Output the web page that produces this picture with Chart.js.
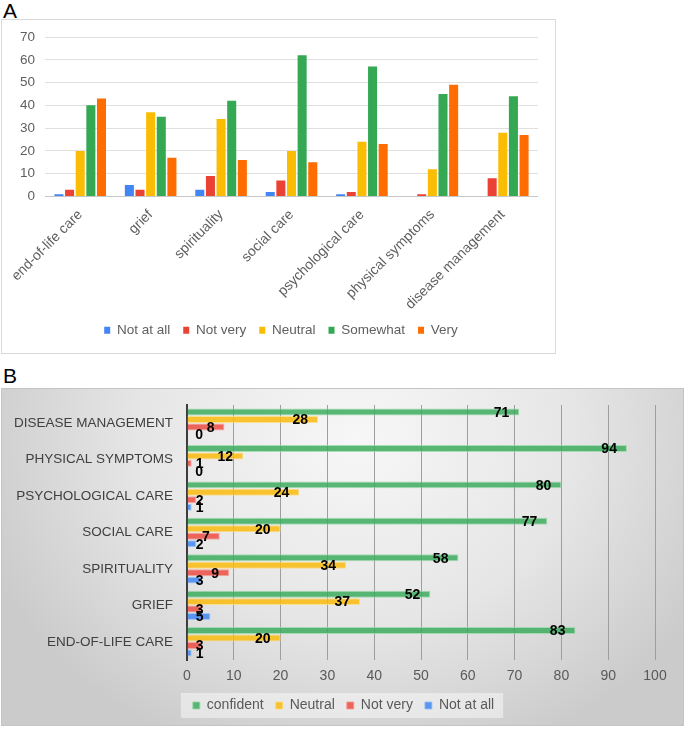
<!DOCTYPE html>
<html lang="en">
<head>
<meta charset="utf-8">
<title>Graphiques A et B</title>
<script src="https://cdn.jsdelivr.net/npm/chart.js@4.4.0/dist/chart.umd.min.js"></script>
<style>
    body { margin: 0; width: 685px; height: 729px; position: relative; overflow: hidden; background: #fff; font-family: "Liberation Sans", Arial, sans-serif; }
    .lettre { position: absolute; left: 3px; font-size: 21px; color: #000; line-height: 24px; }
    #boiteA { position: absolute; left: 1px; top: 19px; width: 555px; height: 335px; border: 1px solid #d9d9d9; box-sizing: border-box; background: #fff; }
    #boiteB { position: absolute; left: 1px; top: 388px; width: 683px; height: 338px; border: 1px solid #c4c4c4; box-sizing: border-box;
              background: radial-gradient(ellipse 58% 100% at 52% 15%, #f7f7f7 0%, #e6e6e6 55%, #cbcbcb 100%); }
    canvas { display: block; }
</style>
</head>
<body>
<div class="lettre" style="top:-1px">A</div>
<div id="boiteA"><canvas id="graphiqueA" width="553" height="333"></canvas></div>
<div class="lettre" style="top:364px">B</div>
<div id="boiteB"><canvas id="graphiqueB" width="681" height="336"></canvas></div>

<script>
// --- DONNÉES ---
const categories = ['end-of-life care', 'grief', 'spirituality', 'social care', 'psychological care', 'physical symptoms', 'disease management'];
const pasDuTout = [1, 5, 3, 2, 1, 0, 0];
const pasTres = [3, 3, 9, 7, 2, 1, 8];
const neutre = [20, 37, 34, 20, 24, 12, 28];
const plutot = [40, 35, 42, 62, 57, 45, 44];
const tres = [43, 17, 16, 15, 23, 49, 27];
const confiant = [83, 52, 58, 77, 80, 94, 71];
const graduationsA = [0, 10, 20, 30, 40, 50, 60, 70];
const graduationsB = [0, 10, 20, 30, 40, 50, 60, 70, 80, 90, 100];

const policeA = '"Liberation Sans", Arial, sans-serif';

// Décale la légende horizontalement (la marge droite du graphique la déporte sinon)
const decalerLegende = dx => ({
    id: 'decalerLegende',
    afterLayout(chart) {
        chart.legend.left += dx;
        chart.legend.right += dx;
    }
});

// --- GRAPHIQUE A : barres verticales groupées ---
new Chart(document.getElementById('graphiqueA'), {
    type: 'bar',
    data: {
        labels: categories,
        datasets: [
            { label: 'Not at all', data: pasDuTout, backgroundColor: '#4285F4' },
            { label: 'Not very', data: pasTres, backgroundColor: '#EA4335' },
            { label: 'Neutral', data: neutre, backgroundColor: '#FBBC04' },
            { label: 'Somewhat', data: plutot, backgroundColor: '#34A853' },
            { label: 'Very', data: tres, backgroundColor: '#FF6D01' }
        ]
    },
    plugins: [decalerLegende(11)],
    options: {
        responsive: false,
        animation: false,
        barPercentage: 0.85,
        categoryPercentage: 0.755,
        layout: { padding: { top: 17, right: 17, left: 0, bottom: 6 } },
        scales: {
            x: {
                grid: { display: false },
                border: { display: false },
                ticks: { color: '#5f5f5f', font: { family: policeA, size: 14 }, minRotation: 45, maxRotation: 45, padding: 2 },
                afterFit: s => { s.height = 114; }
            },
            y: {
                min: graduationsA[0],
                max: graduationsA[graduationsA.length - 1],
                afterBuildTicks: s => { s.ticks = graduationsA.map(v => ({ value: v })); },
                grid: { color: c => c.tick.value === 0 ? '#c6c6c6' : '#e0e0e0', drawTicks: false },
                border: { display: false },
                ticks: { color: '#5f5f5f', font: { family: policeA, size: 13.5 }, padding: 10 },
                afterFit: s => { s.width = 43; s.paddingTop = 0; s.paddingBottom = 0; }
            }
        },
        plugins: {
            legend: {
                position: 'bottom',
                labels: { boxWidth: 6, boxHeight: 7, padding: 13, color: '#5f5f5f', font: { family: policeA, size: 13.5 } }
            },
            tooltip: { enabled: false }
        }
    }
});

// --- GRAPHIQUE B : barres horizontales (catégories du haut vers le bas) ---
const inverser = t => t.slice().reverse();
const categoriesB = inverser(categories).map(c => c.toUpperCase());

// Étiquettes de valeur à l'extrémité intérieure des barres
const etiquettesValeurs = {
    id: 'etiquettesValeurs',
    afterDatasetsDraw(chart) {
        const ctx = chart.ctx;
        ctx.save();
        ctx.font = 'bold 14px "Liberation Sans Narrow", "Liberation Sans", Arial, sans-serif';
        ctx.fillStyle = '#000';
        ctx.textAlign = 'right';
        ctx.textBaseline = 'middle';
        chart.data.datasets.forEach((ds, i) => {
            chart.getDatasetMeta(i).data.forEach((barre, j) => {
                const x = Math.max(barre.x - 10, barre.base + 16);
                ctx.fillText(ds.data[j], x, barre.y + 1);
            });
        });
        ctx.restore();
    }
};

// Fond clair derrière la légende
const fondLegende = {
    id: 'fondLegende',
    beforeDraw(chart) {
        const boites = chart.legend && chart.legend.legendHitBoxes;
        if (!boites || !boites.length) return;
        const g = Math.min(...boites.map(b => b.left)) - 12;
        const d = Math.max(...boites.map(b => b.left + b.width)) + 9;
        const yc = boites[0].top + boites[0].height / 2;
        chart.ctx.save();
        chart.ctx.fillStyle = 'rgba(255,255,255,0.45)';
        chart.ctx.fillRect(g, yc - 12.5, d - g, 25);
        chart.ctx.restore();
    }
};

new Chart(document.getElementById('graphiqueB'), {
    type: 'bar',
    data: {
        labels: categoriesB,
        datasets: [
            { label: 'confident', data: inverser(confiant), backgroundColor: 'rgba(55,170,90,0.82)', borderColor: 'rgba(150,215,165,0.8)', borderWidth: 1 },
            { label: 'Neutral', data: inverser(neutre), backgroundColor: 'rgba(250,188,15,0.86)', borderColor: 'rgba(252,220,120,0.8)', borderWidth: 1 },
            { label: 'Not very', data: inverser(pasTres), backgroundColor: 'rgba(236,78,68,0.86)', borderColor: 'rgba(245,150,140,0.8)', borderWidth: 1 },
            { label: 'Not at all', data: inverser(pasDuTout), backgroundColor: 'rgba(66,136,240,0.86)', borderColor: 'rgba(150,190,250,0.8)', borderWidth: 1 }
        ]
    },
    plugins: [etiquettesValeurs, fondLegende, decalerLegende(15)],
    options: {
        indexAxis: 'y',
        responsive: false,
        animation: false,
        barPercentage: 0.93,
        categoryPercentage: 0.82,
        layout: { padding: { top: 16, right: 28, left: 0, bottom: 2.5 } },
        scales: {
            x: {
                min: graduationsB[0],
                max: graduationsB[graduationsB.length - 1],
                afterBuildTicks: s => { s.ticks = graduationsB.map(v => ({ value: v })); },
                grid: { color: c => c.tick.value === 0 ? 'rgba(0,0,0,0)' : '#9e9e9e', drawTicks: false },
                border: { display: false },
                ticks: { color: '#595959', font: { family: policeA, size: 14 }, padding: 8 },
                afterFit: s => { s.height = 26.5; }
            },
            y: {
                grid: { display: false, drawTicks: false },
                border: { display: true, color: '#3c3c3c', width: 2 },
                ticks: { color: '#404040', font: { family: policeA, size: 13.5 }, padding: 14 },
                afterFit: s => { s.width = 185; s.paddingTop = 0; s.paddingBottom = 0; }
            }
        },
        plugins: {
            legend: {
                position: 'bottom',
                labels: { boxWidth: 7, boxHeight: 7, padding: 12, color: '#595959', font: { family: policeA, size: 14 } }
            },
            tooltip: { enabled: false }
        }
    }
});
</script>
</body>
</html>
